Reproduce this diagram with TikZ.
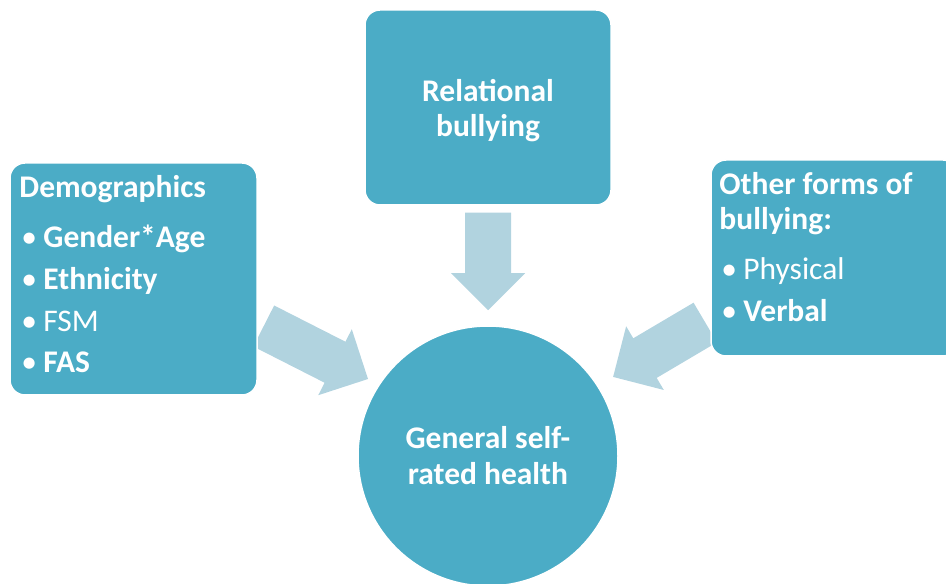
\documentclass[tikz,border=0pt]{standalone}
\usepackage{fontspec}
\setmainfont{Carlito}
\usepackage{tikz}
\usetikzlibrary{arrows,positioning,calc}
\pgfdeclarelayer{bg}
\pgfsetlayers{bg,main}
\usepackage{color}
\definecolor{boxblue}{HTML}{4BACC6}
\definecolor{arrowblue}{HTML}{B1D3DF}

\tikzset{
  box/.style={fill=boxblue, draw=white, line width=1.5pt, rounded corners=15pt,
    text=white, inner sep=0pt},
  boxtext/.style={text=white, inner sep=0pt, align=left,
    font=\fontsize{31.5}{35}\selectfont},
  arrowfill/.style={fill=arrowblue}
}

% one list entry with its bullet
\newcommand{\bitem}[1]{\hspace*{2pt}\makebox[22pt][l]{\textbullet}#1}

% broad block arrow from #1 to the tip #2
\newcommand{\fatarrow}[2]{%
  \fill[arrowfill] let \p1=(#1), \p2=(#2),
    \n1={atan2(\y2-\y1,\x2-\x1)}, \n2={veclen(\x2-\x1,\y2-\y1)} in
    [shift={(\p1)}, rotate=\n1]
    (0,-23) -- (\n2-37,-23) -- (\n2-37,-37) -- (\n2,0)
    -- (\n2-37,37) -- (\n2-37,23) -- (0,23) -- cycle;}

\begin{document}
\begin{tikzpicture}[x=1pt,y=1pt]
    \useasboundingbox (0,0) rectangle (946,584);
    \clip (0,0) rectangle (946,584);

    \node [box, minimum width=247pt, minimum height=232pt] (demo) at (133.5,305) {};
    \node [box, minimum width=246pt, minimum height=195pt, align=center,
      font=\bfseries\fontsize{31.5}{35}\selectfont] (rel) at (488,476.5) {\rule{0pt}{29pt}Relational\\bullying};
    \node [box, circle, minimum size=260pt, align=center,
      font=\bfseries\fontsize{31.5}{36}\selectfont] (health) at (488,128) {General self-\\rated health};
    \node [box, minimum width=247pt, minimum height=196pt] (other) at (834.5,326) {};

    % lists inside the side boxes
    \node [boxtext, anchor=north west] (demotext) at ([xshift=10pt,yshift=-13pt]demo.north west)
      {\textbf{Demographics}\\[15pt]
       \bitem{\textbf{Gender*Age}}\\[7pt]
       \bitem{\textbf{Ethnicity}}\\[7pt]
       \bitem{FSM}\\[6pt]
       \bitem{\textbf{FAS}}};
    \node [boxtext, anchor=north west] (othertext) at ([xshift=9pt,yshift=-13pt]other.north west)
      {\textbf{Other forms of}\\
       \textbf{bullying:}\\[15pt]
       \bitem{Physical}\\[7pt]
       \bitem{\textbf{Verbal}}};

    \begin{pgfonlayer}{bg}    % arrows sit behind the shapes
        \fatarrow{$(demo.east)+(6,-47)$}{$(health.center)+(-120,77)$}
        \fatarrow{$(rel.south)+(0,-7)$}{$(health.north)+(0,15)$}
        \fatarrow{$(other.west)+(-5,-64.5)$}{$(health.center)+(125,79)$}
    \end{pgfonlayer}

\end{tikzpicture}
\end{document}
